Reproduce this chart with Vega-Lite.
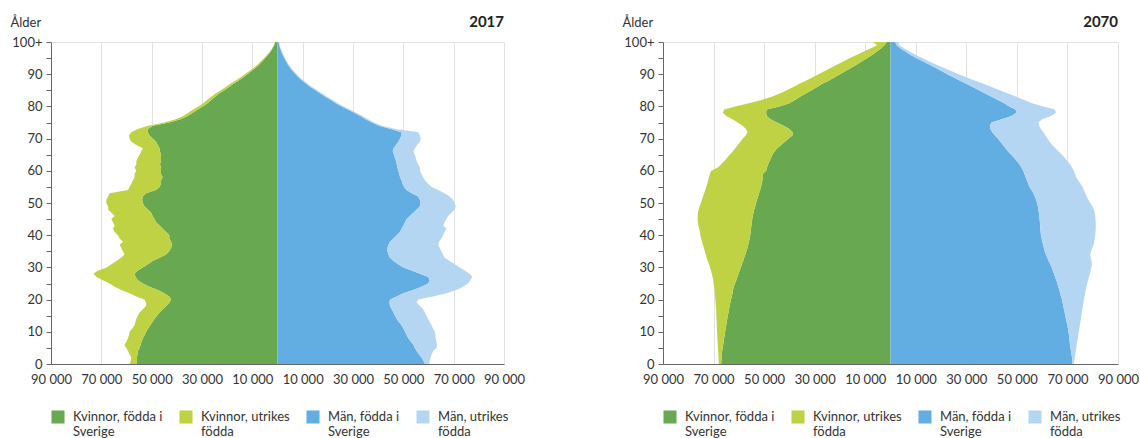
{
  "$schema": "https://vega.github.io/schema/vega-lite/v6.json",
  "padding": {"left": 9, "top": 14, "right": 5, "bottom": 2},
  "config": {
    "font": "Lato",
    "view": {"stroke": "#e3e3e3"},
    "axis": {"labelFont": "Lato", "labelFontSize": 13, "labelColor": "#333333", "domainColor": "#666666", "tickColor": "#666666", "gridColor": "#e3e3e3", "titleFont": "Lato", "titleColor": "#333333"},
    "legend": {"labelFont": "Lato", "labelFontSize": 13, "labelColor": "#333333"}
  },
  "datasets": {
    "d2017": [
      {"age":0,"kf":56100,"kt":58800,"mf":58600,"mt":60300},
      {"age":1,"kf":55800,"kt":58300,"mf":58000,"mt":60500},
      {"age":2,"kf":55900,"kt":58100,"mf":57200,"mt":60800},
      {"age":3,"kf":55600,"kt":58800,"mf":56200,"mt":61300},
      {"age":4,"kf":55500,"kt":59400,"mf":55300,"mt":61800},
      {"age":5,"kf":54800,"kt":60100,"mf":54600,"mt":63200},
      {"age":6,"kf":54400,"kt":60800,"mf":54000,"mt":63400},
      {"age":7,"kf":54000,"kt":60000,"mf":53000,"mt":63100},
      {"age":8,"kf":53500,"kt":59400,"mf":52000,"mt":62900},
      {"age":9,"kf":52800,"kt":59000,"mf":51300,"mt":62700},
      {"age":10,"kf":52200,"kt":58800,"mf":50700,"mt":62500},
      {"age":11,"kf":51400,"kt":57700,"mf":50000,"mt":61800},
      {"age":12,"kf":50600,"kt":56800,"mf":49300,"mt":61200},
      {"age":13,"kf":49700,"kt":56500,"mf":48300,"mt":60500},
      {"age":14,"kf":48900,"kt":56100,"mf":47400,"mt":59900},
      {"age":15,"kf":47900,"kt":55500,"mf":46700,"mt":59200},
      {"age":16,"kf":46900,"kt":54800,"mf":46100,"mt":58600},
      {"age":17,"kf":45600,"kt":53500,"mf":45400,"mt":57900},
      {"age":18,"kf":44300,"kt":52200,"mf":44700,"mt":56600},
      {"age":19,"kf":43000,"kt":52200,"mf":44500,"mt":55300},
      {"age":20,"kf":42300,"kt":52900,"mf":44700,"mt":55900},
      {"age":21,"kf":43000,"kt":56100,"mf":47400,"mt":61800},
      {"age":22,"kf":45000,"kt":58800,"mf":50000,"mt":67100},
      {"age":23,"kf":47600,"kt":62100,"mf":54000,"mt":71100},
      {"age":24,"kf":50900,"kt":64700,"mf":57200,"mt":73700},
      {"age":25,"kf":53500,"kt":66700,"mf":59900,"mt":75700},
      {"age":26,"kf":55500,"kt":69300,"mf":60500,"mt":76600},
      {"age":27,"kf":56400,"kt":71900,"mf":59900,"mt":77400},
      {"age":28,"kf":56800,"kt":73200,"mf":56600,"mt":76300},
      {"age":29,"kf":55500,"kt":71200,"mf":53300,"mt":74400},
      {"age":30,"kf":53500,"kt":67900,"mf":50000,"mt":72400},
      {"age":31,"kf":51500,"kt":66000,"mf":48000,"mt":70400},
      {"age":32,"kf":49600,"kt":64000,"mf":46100,"mt":68400},
      {"age":33,"kf":46900,"kt":62100,"mf":44700,"mt":66400},
      {"age":34,"kf":44300,"kt":60800,"mf":44100,"mt":65800},
      {"age":35,"kf":43000,"kt":61400,"mf":43700,"mt":65100},
      {"age":36,"kf":42300,"kt":62100,"mf":43700,"mt":64500},
      {"age":37,"kf":41900,"kt":62700,"mf":44100,"mt":63800},
      {"age":38,"kf":42300,"kt":61400,"mf":44700,"mt":64200},
      {"age":39,"kf":43000,"kt":62700,"mf":46100,"mt":65100},
      {"age":40,"kf":43000,"kt":63400,"mf":47400,"mt":65800},
      {"age":41,"kf":44300,"kt":64700,"mf":48700,"mt":66400},
      {"age":42,"kf":45600,"kt":65400,"mf":49300,"mt":67100},
      {"age":43,"kf":46900,"kt":64700,"mf":50000,"mt":65800},
      {"age":44,"kf":48300,"kt":65400,"mf":50700,"mt":66400},
      {"age":45,"kf":48900,"kt":66000,"mf":51300,"mt":67100},
      {"age":46,"kf":49600,"kt":64700,"mf":52600,"mt":67800},
      {"age":47,"kf":50200,"kt":66000,"mf":54000,"mt":69100},
      {"age":48,"kf":51500,"kt":67300,"mf":55300,"mt":70400},
      {"age":49,"kf":52900,"kt":67300,"mf":56600,"mt":70800},
      {"age":50,"kf":53500,"kt":68000,"mf":56900,"mt":70400},
      {"age":51,"kf":53800,"kt":68000,"mf":56600,"mt":69700},
      {"age":52,"kf":53500,"kt":67300,"mf":55900,"mt":68400},
      {"age":53,"kf":52200,"kt":66700,"mf":53300,"mt":66400},
      {"age":54,"kf":48300,"kt":59400,"mf":51300,"mt":63800},
      {"age":55,"kf":46900,"kt":58800,"mf":50300,"mt":61200},
      {"age":56,"kf":46300,"kt":58100,"mf":49700,"mt":59900},
      {"age":57,"kf":46300,"kt":57500,"mf":49300,"mt":58600},
      {"age":58,"kf":45600,"kt":56800,"mf":48700,"mt":57900},
      {"age":59,"kf":46300,"kt":56800,"mf":48400,"mt":57200},
      {"age":60,"kf":46300,"kt":56100,"mf":48000,"mt":56600},
      {"age":61,"kf":46300,"kt":56800,"mf":47600,"mt":56600},
      {"age":62,"kf":46700,"kt":56100,"mf":47400,"mt":55900},
      {"age":63,"kf":46300,"kt":56100,"mf":47100,"mt":55300},
      {"age":64,"kf":46300,"kt":55500,"mf":46700,"mt":55000},
      {"age":65,"kf":46300,"kt":54800,"mf":46300,"mt":54600},
      {"age":66,"kf":46700,"kt":54200,"mf":45800,"mt":54000},
      {"age":67,"kf":46900,"kt":53500,"mf":46100,"mt":54600},
      {"age":68,"kf":47600,"kt":56100,"mf":47100,"mt":55500},
      {"age":69,"kf":48300,"kt":58100,"mf":48000,"mt":56600},
      {"age":70,"kf":49600,"kt":58800,"mf":48700,"mt":56900},
      {"age":71,"kf":50900,"kt":59000,"mf":49300,"mt":56600},
      {"age":72,"kf":51500,"kt":58100,"mf":49300,"mt":55900},
      {"age":73,"kf":51500,"kt":55500,"mf":45000,"mt":47000},
      {"age":74,"kf":49500,"kt":51500,"mf":40400,"mt":41500},
      {"age":75,"kf":43000,"kt":45000,"mf":37500,"mt":38500},
      {"age":76,"kf":38600,"kt":40500,"mf":35000,"mt":36000},
      {"age":77,"kf":35700,"kt":37500,"mf":32900,"mt":33800},
      {"age":78,"kf":33700,"kt":35500,"mf":30400,"mt":31300},
      {"age":79,"kf":31700,"kt":33500,"mf":28000,"mt":28800},
      {"age":80,"kf":29700,"kt":31500,"mf":25500,"mt":26300},
      {"age":81,"kf":27800,"kt":29500,"mf":23200,"mt":24000},
      {"age":82,"kf":26400,"kt":28000,"mf":21200,"mt":22000},
      {"age":83,"kf":24800,"kt":26300,"mf":19000,"mt":19800},
      {"age":84,"kf":23200,"kt":24600,"mf":17000,"mt":17800},
      {"age":85,"kf":21100,"kt":22500,"mf":15100,"mt":15800},
      {"age":86,"kf":19300,"kt":20600,"mf":13100,"mt":13800},
      {"age":87,"kf":17500,"kt":18800,"mf":11400,"mt":12000},
      {"age":88,"kf":15600,"kt":16800,"mf":9900,"mt":10500},
      {"age":89,"kf":13700,"kt":14800,"mf":8400,"mt":8900},
      {"age":90,"kf":12000,"kt":13000,"mf":7200,"mt":7700},
      {"age":91,"kf":10300,"kt":11200,"mf":6000,"mt":6500},
      {"age":92,"kf":8700,"kt":9500,"mf":5000,"mt":5400},
      {"age":93,"kf":7200,"kt":7900,"mf":4100,"mt":4500},
      {"age":94,"kf":6000,"kt":6600,"mf":3400,"mt":3700},
      {"age":95,"kf":4800,"kt":5300,"mf":2700,"mt":3000},
      {"age":96,"kf":3800,"kt":4200,"mf":2100,"mt":2400},
      {"age":97,"kf":2800,"kt":3100,"mf":1600,"mt":1800},
      {"age":98,"kf":2000,"kt":2200,"mf":1100,"mt":1300},
      {"age":99,"kf":1300,"kt":1500,"mf":700,"mt":900},
      {"age":100,"kf":900,"kt":1000,"mf":400,"mt":600}
    ],
    "d2070": [
      {"age":0,"kf":67000,"kt":67900,"mf":72000,"mt":72500},
      {"age":1,"kf":66900,"kt":68000,"mf":71900,"mt":72700},
      {"age":2,"kf":66800,"kt":68000,"mf":71800,"mt":72900},
      {"age":3,"kf":66700,"kt":68100,"mf":71600,"mt":73100},
      {"age":4,"kf":66600,"kt":68200,"mf":71400,"mt":73300},
      {"age":5,"kf":66400,"kt":68300,"mf":71200,"mt":73500},
      {"age":6,"kf":66200,"kt":68300,"mf":71000,"mt":73700},
      {"age":7,"kf":66000,"kt":68400,"mf":70900,"mt":73900},
      {"age":8,"kf":65800,"kt":68500,"mf":70700,"mt":74100},
      {"age":9,"kf":65600,"kt":68500,"mf":70600,"mt":74300},
      {"age":10,"kf":65400,"kt":68600,"mf":70400,"mt":74500},
      {"age":11,"kf":65200,"kt":68700,"mf":70200,"mt":74700},
      {"age":12,"kf":65000,"kt":68700,"mf":69900,"mt":74900},
      {"age":13,"kf":64800,"kt":68800,"mf":69700,"mt":75100},
      {"age":14,"kf":64600,"kt":68800,"mf":69400,"mt":75300},
      {"age":15,"kf":64400,"kt":68900,"mf":69200,"mt":75500},
      {"age":16,"kf":64100,"kt":68900,"mf":68900,"mt":75700},
      {"age":17,"kf":63900,"kt":69000,"mf":68600,"mt":75900},
      {"age":18,"kf":63600,"kt":69100,"mf":68400,"mt":76100},
      {"age":19,"kf":63400,"kt":69200,"mf":68100,"mt":76300},
      {"age":20,"kf":63100,"kt":69300,"mf":67900,"mt":76500},
      {"age":21,"kf":62800,"kt":69400,"mf":67500,"mt":76700},
      {"age":22,"kf":62500,"kt":69500,"mf":67100,"mt":77000},
      {"age":23,"kf":62300,"kt":69600,"mf":66800,"mt":77200},
      {"age":24,"kf":62000,"kt":69800,"mf":66400,"mt":77500},
      {"age":25,"kf":61500,"kt":70000,"mf":66000,"mt":77800},
      {"age":26,"kf":61000,"kt":70100,"mf":65600,"mt":78100},
      {"age":27,"kf":60600,"kt":70400,"mf":65100,"mt":78500},
      {"age":28,"kf":60100,"kt":70700,"mf":64700,"mt":78900},
      {"age":29,"kf":59700,"kt":71000,"mf":64200,"mt":79200},
      {"age":30,"kf":59200,"kt":71400,"mf":63800,"mt":79500},
      {"age":31,"kf":58800,"kt":71800,"mf":63200,"mt":79700},
      {"age":32,"kf":58300,"kt":72300,"mf":62600,"mt":79500},
      {"age":33,"kf":57900,"kt":72700,"mf":62000,"mt":79200},
      {"age":34,"kf":57400,"kt":73100,"mf":61500,"mt":79000},
      {"age":35,"kf":57000,"kt":73500,"mf":61000,"mt":79300},
      {"age":36,"kf":56600,"kt":73800,"mf":60700,"mt":79800},
      {"age":37,"kf":56300,"kt":74200,"mf":60400,"mt":80300},
      {"age":38,"kf":56000,"kt":74500,"mf":60100,"mt":80600},
      {"age":39,"kf":55700,"kt":74900,"mf":59800,"mt":80800},
      {"age":40,"kf":55500,"kt":75200,"mf":59500,"mt":81000},
      {"age":41,"kf":55300,"kt":75400,"mf":59400,"mt":81100},
      {"age":42,"kf":55200,"kt":75700,"mf":59300,"mt":81200},
      {"age":43,"kf":55000,"kt":76000,"mf":59200,"mt":81200},
      {"age":44,"kf":54900,"kt":76200,"mf":59100,"mt":81200},
      {"age":45,"kf":54700,"kt":76300,"mf":59000,"mt":81100},
      {"age":46,"kf":54500,"kt":76300,"mf":58900,"mt":81000},
      {"age":47,"kf":54200,"kt":76200,"mf":58700,"mt":80800},
      {"age":48,"kf":53900,"kt":75900,"mf":58500,"mt":80400},
      {"age":49,"kf":53500,"kt":75500,"mf":58300,"mt":79800},
      {"age":50,"kf":53200,"kt":75000,"mf":58000,"mt":79000},
      {"age":51,"kf":52800,"kt":74600,"mf":57600,"mt":78300},
      {"age":52,"kf":52400,"kt":74200,"mf":57100,"mt":77600},
      {"age":53,"kf":52000,"kt":73700,"mf":56500,"mt":77000},
      {"age":54,"kf":51600,"kt":73300,"mf":55800,"mt":76500},
      {"age":55,"kf":51200,"kt":72900,"mf":55000,"mt":76000},
      {"age":56,"kf":51000,"kt":72500,"mf":54500,"mt":75200},
      {"age":57,"kf":50700,"kt":72200,"mf":54000,"mt":74300},
      {"age":58,"kf":50400,"kt":71800,"mf":53500,"mt":73500},
      {"age":59,"kf":50500,"kt":71500,"mf":53000,"mt":73000},
      {"age":60,"kf":49200,"kt":70900,"mf":52500,"mt":72500},
      {"age":61,"kf":48900,"kt":68300,"mf":51800,"mt":71800},
      {"age":62,"kf":48400,"kt":67000,"mf":51000,"mt":71000},
      {"age":63,"kf":47900,"kt":65800,"mf":50000,"mt":70000},
      {"age":64,"kf":47300,"kt":64700,"mf":49000,"mt":69000},
      {"age":65,"kf":46700,"kt":63600,"mf":47800,"mt":67800},
      {"age":66,"kf":45900,"kt":62400,"mf":46500,"mt":66500},
      {"age":67,"kf":44800,"kt":61400,"mf":45500,"mt":65200},
      {"age":68,"kf":43300,"kt":60400,"mf":44500,"mt":64000},
      {"age":69,"kf":41800,"kt":59400,"mf":43500,"mt":63000},
      {"age":70,"kf":40300,"kt":58400,"mf":42500,"mt":62000},
      {"age":71,"kf":38800,"kt":57300,"mf":41300,"mt":61300},
      {"age":72,"kf":38700,"kt":56500,"mf":40300,"mt":60500},
      {"age":73,"kf":40000,"kt":57200,"mf":39500,"mt":59500},
      {"age":74,"kf":42300,"kt":58500,"mf":39300,"mt":58800},
      {"age":75,"kf":45000,"kt":60500,"mf":40000,"mt":58500},
      {"age":76,"kf":47500,"kt":62500,"mf":44000,"mt":60000},
      {"age":77,"kf":49000,"kt":65000,"mf":48000,"mt":63500},
      {"age":78,"kf":49200,"kt":66300,"mf":49800,"mt":65500},
      {"age":79,"kf":49000,"kt":65800,"mf":49500,"mt":65000},
      {"age":80,"kf":44000,"kt":61500,"mf":47000,"mt":60500},
      {"age":81,"kf":40000,"kt":56000,"mf":45000,"mt":56000},
      {"age":82,"kf":37800,"kt":51000,"mf":42500,"mt":53000},
      {"age":83,"kf":35800,"kt":47000,"mf":40000,"mt":49800},
      {"age":84,"kf":33500,"kt":43800,"mf":37500,"mt":46500},
      {"age":85,"kf":31200,"kt":41000,"mf":35000,"mt":43200},
      {"age":86,"kf":29000,"kt":38500,"mf":32500,"mt":40000},
      {"age":87,"kf":27000,"kt":36000,"mf":30000,"mt":36800},
      {"age":88,"kf":24500,"kt":33500,"mf":27500,"mt":33500},
      {"age":89,"kf":22300,"kt":31000,"mf":25000,"mt":30200},
      {"age":90,"kf":20000,"kt":28500,"mf":22500,"mt":27000},
      {"age":91,"kf":17800,"kt":26000,"mf":20200,"mt":24000},
      {"age":92,"kf":15500,"kt":23500,"mf":17800,"mt":21000},
      {"age":93,"kf":13300,"kt":21000,"mf":15300,"mt":18000},
      {"age":94,"kf":11200,"kt":18500,"mf":12700,"mt":15200},
      {"age":95,"kf":9200,"kt":16000,"mf":10200,"mt":12500},
      {"age":96,"kf":7300,"kt":13500,"mf":8000,"mt":10000},
      {"age":97,"kf":5500,"kt":10800,"mf":6000,"mt":7800},
      {"age":98,"kf":3800,"kt":8000,"mf":4000,"mt":5500},
      {"age":99,"kf":2400,"kt":5200,"mf":2500,"mt":3500},
      {"age":100,"kf":1500,"kt":7000,"mf":1800,"mt":3000}
    ]
  },
  "resolve": {"scale": {"color": "independent"}},
  "bounds": "flush",
  "spacing": 159,
  "hconcat": [
    {
      "width": 453, "height": 322,
      "data": {"name": "d2017"},
      "title": {"text": "2017", "anchor": "end", "frame": "group", "fontSize": 15, "fontWeight": "bold", "font": "Lato", "color": "#222222", "baseline": "alphabetic", "offset": -26},
      "encoding": {
        "y": {"field": "age", "type": "quantitative", "scale": {"domain": [0, 100], "nice": false},
          "axis": {"values": [0,5,10,15,20,25,30,35,40,45,50,55,60,65,70,75,80,85,90,95,100],
            "labelExpr": "datum.value % 10 != 0 ? '' : (datum.value == 100 ? '100+' : datum.label)",
            "labelOverlap": false, "grid": false, "tickSize": 5, "labelPadding": 4, "zindex": 1,
            "title": "Ålder", "titleAngle": 0, "titleAlign": "left", "titleBaseline": "alphabetic", "titleX": -41, "titleY": -16, "titleFontWeight": "normal", "titleFontSize": 13}}
      },
      "layer": [
        {"mark": {"type": "area", "orient": "horizontal"},
         "encoding": {
           "x": {"field": "kf", "type": "quantitative", "scale": {"domain": [-90000, 90000], "reverse": true, "nice": false, "zero": false}, "axis": null},
           "x2": {"datum": 0},
           "color": {"datum": "Kvinnor, födda i Sverige", "type": "nominal",
             "scale": {"domain": ["Kvinnor, födda i Sverige", "Kvinnor, utrikes födda", "Män, födda i Sverige", "Män, utrikes födda"], "range": ["#68a850", "#bfd243", "#62aee3", "#b5d6f2"]},
             "legend": {"orient": "bottom", "direction": "horizontal", "title": null, "symbolType": "square", "symbolSize": 170, "symbolStrokeWidth": 0, "symbolOpacity": 1, "columnPadding": 16, "gridAlign": "none", "labelOffset": 8, "labelLimit": 200, "offset": 24, "labelBaseline": "top",
               "labelExpr": "[slice(datum.label, 0, lastindexof(datum.label, ' ')), slice(datum.label, lastindexof(datum.label, ' ') + 1)]",
               "encode": {"labels": {"update": {"dy": {"value": -6}}}}}}
         }},
        {"mark": {"type": "area", "orient": "horizontal"},
         "encoding": {
           "x": {"field": "kt", "type": "quantitative", "scale": {"domain": [-90000, 90000], "reverse": true, "nice": false, "zero": false}, "axis": null},
           "x2": {"field": "kf"},
           "color": {"datum": "Kvinnor, utrikes födda", "type": "nominal"}
         }},
        {"mark": {"type": "area", "orient": "horizontal"},
         "encoding": {
           "x": {"field": "mf", "type": "quantitative", "scale": {"domain": [-90000, 90000], "nice": false, "zero": false},
             "axis": {"values": [-90000,-70000,-50000,-30000,-10000,10000,30000,50000,70000,90000],
               "labelExpr": "replace(format(abs(datum.value), ','), ',', ' ')", "title": null, "grid": true, "ticks": false, "labelPadding": 9, "labelFlush": false, "labelOverlap": false}},
           "x2": {"datum": 0},
           "color": {"datum": "Män, födda i Sverige", "type": "nominal"}
         }},
        {"mark": {"type": "area", "orient": "horizontal"},
         "encoding": {
           "x": {"field": "mt", "type": "quantitative", "scale": {"domain": [-90000, 90000], "nice": false, "zero": false}, "axis": null},
           "x2": {"field": "mf"},
           "color": {"datum": "Män, utrikes födda", "type": "nominal"}
         }}
      ],
      "resolve": {"scale": {"x": "independent"}}
    },
    {
      "width": 455, "height": 322,
      "data": {"name": "d2070"},
      "title": {"text": "2070", "anchor": "end", "frame": "group", "fontSize": 15, "fontWeight": "bold", "font": "Lato", "color": "#222222", "baseline": "alphabetic", "offset": -26},
      "encoding": {
        "y": {"field": "age", "type": "quantitative", "scale": {"domain": [0, 100], "nice": false},
          "axis": {"values": [0,5,10,15,20,25,30,35,40,45,50,55,60,65,70,75,80,85,90,95,100],
            "labelExpr": "datum.value % 10 != 0 ? '' : (datum.value == 100 ? '100+' : datum.label)",
            "labelOverlap": false, "grid": false, "tickSize": 5, "labelPadding": 4, "zindex": 1,
            "title": "Ålder", "titleAngle": 0, "titleAlign": "left", "titleBaseline": "alphabetic", "titleX": -41, "titleY": -16, "titleFontWeight": "normal", "titleFontSize": 13}}
      },
      "layer": [
        {"mark": {"type": "area", "orient": "horizontal"},
         "encoding": {
           "x": {"field": "kf", "type": "quantitative", "scale": {"domain": [-90000, 90000], "reverse": true, "nice": false, "zero": false}, "axis": null},
           "x2": {"datum": 0},
           "color": {"datum": "Kvinnor, födda i Sverige", "type": "nominal",
             "scale": {"domain": ["Kvinnor, födda i Sverige", "Kvinnor, utrikes födda", "Män, födda i Sverige", "Män, utrikes födda"], "range": ["#68a850", "#bfd243", "#62aee3", "#b5d6f2"]},
             "legend": {"orient": "bottom", "direction": "horizontal", "title": null, "symbolType": "square", "symbolSize": 170, "symbolStrokeWidth": 0, "symbolOpacity": 1, "columnPadding": 16, "gridAlign": "none", "labelOffset": 8, "labelLimit": 200, "offset": 24, "labelBaseline": "top",
               "labelExpr": "[slice(datum.label, 0, lastindexof(datum.label, ' ')), slice(datum.label, lastindexof(datum.label, ' ') + 1)]",
               "encode": {"labels": {"update": {"dy": {"value": -6}}}}}}
         }},
        {"mark": {"type": "area", "orient": "horizontal"},
         "encoding": {
           "x": {"field": "kt", "type": "quantitative", "scale": {"domain": [-90000, 90000], "reverse": true, "nice": false, "zero": false}, "axis": null},
           "x2": {"field": "kf"},
           "color": {"datum": "Kvinnor, utrikes födda", "type": "nominal"}
         }},
        {"mark": {"type": "area", "orient": "horizontal"},
         "encoding": {
           "x": {"field": "mf", "type": "quantitative", "scale": {"domain": [-90000, 90000], "nice": false, "zero": false},
             "axis": {"values": [-90000,-70000,-50000,-30000,-10000,10000,30000,50000,70000,90000],
               "labelExpr": "replace(format(abs(datum.value), ','), ',', ' ')", "title": null, "grid": true, "ticks": false, "labelPadding": 9, "labelFlush": false, "labelOverlap": false}},
           "x2": {"datum": 0},
           "color": {"datum": "Män, födda i Sverige", "type": "nominal"}
         }},
        {"mark": {"type": "area", "orient": "horizontal"},
         "encoding": {
           "x": {"field": "mt", "type": "quantitative", "scale": {"domain": [-90000, 90000], "nice": false, "zero": false}, "axis": null},
           "x2": {"field": "mf"},
           "color": {"datum": "Män, utrikes födda", "type": "nominal"}
         }}
      ],
      "resolve": {"scale": {"x": "independent"}}
    }
  ]
}
